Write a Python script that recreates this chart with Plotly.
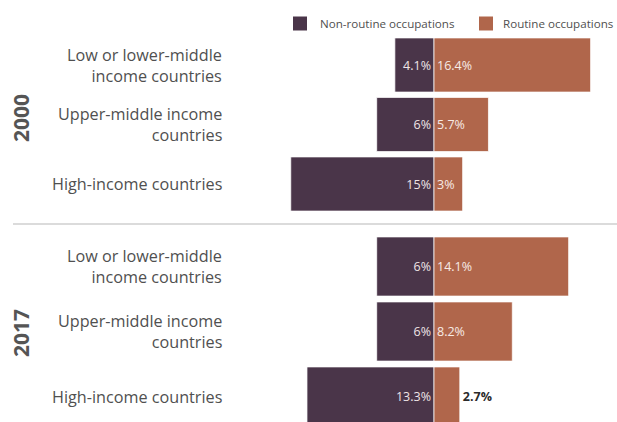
import plotly.graph_objects as go

categories = ["Low or lower-middle income countries",
              "Upper-middle income countries",
              "High-income countries"]
category_labels = ["Low or lower-middle<br>income countries",
                   "Upper-middle income<br>countries",
                   "High-income countries"]
years = ["2000", "2017"]
series_names = ["Non-routine occupations", "Routine occupations"]
nonroutine_2000 = [4.1, 6, 15]
routine_2000 = [16.4, 5.7, 3]
nonroutine_2017 = [6, 6, 13.3]
routine_2017 = [14.1, 8.2, 2.7]

PURPLE = "#4a3549"
ORANGE = "#b0664b"
FONT = "Open Sans"

W, H = 617, 422
X0, XC, XR = 285, 434, 612
PXPER = 9.55

fig = go.Figure()


def fits(v, label):
    # keep label inside the bar only when it has room
    return v * PXPER >= len(label) * 7.2 + 6


def add_panel(nr, ro, xa, ya):
    for vals, sign, name, col, tcol in ((nr, -1, series_names[0], PURPLE, "#efe4e6"),
                                         (ro, 1, series_names[1], ORANGE, "#f7ebe6")):
        labels = [f"{v:g}%" for v in vals]
        fig.add_trace(go.Bar(
            y=categories, x=[sign * v for v in vals], orientation="h",
            name=name, showlegend=False,
            marker=dict(color=col, line=dict(color="rgba(255,255,255,0.75)", width=1)),
            text=labels,
            textposition=["inside" if fits(v, t) else "outside" for v, t in zip(vals, labels)],
            textangle=0,
            insidetextanchor="start",
            insidetextfont=dict(color=tcol, size=12.5, family=FONT),
            outsidetextfont=dict(color="#2b2b2b", size=12.5, family=FONT, weight="bold"),
            xaxis=xa, yaxis=ya, hoverinfo="skip", cliponaxis=False,
        ))


add_panel(nonroutine_2000, routine_2000, "x", "y")
add_panel(nonroutine_2017, routine_2017, "x2", "y2")

xr = [-(XC - X0) / PXPER, (XR - XC) / PXPER]
xdom = [X0 / W, XR / W]
xcommon = dict(range=xr, domain=xdom, showgrid=False, zeroline=False,
               showticklabels=False, showline=False, fixedrange=True)

top_t, top_b = 35.25, 213.75
bot_t = 234.0
pitch_b = 65.0
bot_range_end = (H - bot_t) / pitch_b - 0.5

fig.update_layout(
    width=W, height=H,
    margin=dict(l=0, r=0, t=0, b=0),
    paper_bgcolor="white", plot_bgcolor="white",
    barmode="relative", bargap=0.09,
    font=dict(family=FONT, color="#505050"),
    xaxis=dict(anchor="y", **xcommon),
    xaxis2=dict(anchor="y2", **xcommon),
    yaxis=dict(domain=[1 - top_b / H, 1 - top_t / H], range=[2.5, -0.5],
               showticklabels=False, showgrid=False, zeroline=False),
    yaxis2=dict(domain=[0, 1 - bot_t / H], range=[bot_range_end, -0.5],
                showticklabels=False, showgrid=False, zeroline=False),
    showlegend=False,
)

annotations = []
for ya in ("y", "y2"):
    for cat, lab in zip(categories, category_labels):
        annotations.append(dict(x=224 / W, xref="paper", xanchor="right",
                                y=cat, yref=ya, yanchor="middle", text=lab,
                                align="right", showarrow=False,
                                font=dict(size=16.2, color="#505050", family=FONT)))
for yr, ypx in zip(years, (118, 333)):
    annotations.append(dict(x=21 / W, xref="paper", xanchor="center",
                            y=1 - ypx / H, yref="paper", yanchor="middle",
                            text="<b>" + yr + "</b>", textangle=-90,
                            showarrow=False, font=dict(size=21, color="#555555", family=FONT)))

# legend (manual)
shapes = []
for i, (name, col, sx) in enumerate(zip(series_names, (PURPLE, ORANGE), (293, 479))):
    shapes.append(dict(type="rect", xref="paper", yref="paper",
                       x0=sx / W, x1=(sx + 14) / W, y0=1 - 30.5 / H, y1=1 - 16.5 / H,
                       fillcolor=col, line=dict(width=0)))
    if i == 0:
        ann = dict(x=(sx + 25) / W, xanchor="left")
    else:
        ann = dict(x=615 / W, xanchor="right")
    ann.update(xref="paper", y=1 - 23.5 / H, yref="paper", yanchor="middle",
               text=name, showarrow=False,
               font=dict(size=11.6, color="#505050", family=FONT))
    annotations.append(ann)

shapes.append(dict(type="line", xref="paper", yref="paper", x0=13 / W, x1=1,
                   y0=1 - 224 / H, y1=1 - 224 / H, line=dict(color="#cfcfcf", width=1.5)))
fig.update_layout(annotations=annotations, shapes=shapes)

fig.write_html("out.html")
